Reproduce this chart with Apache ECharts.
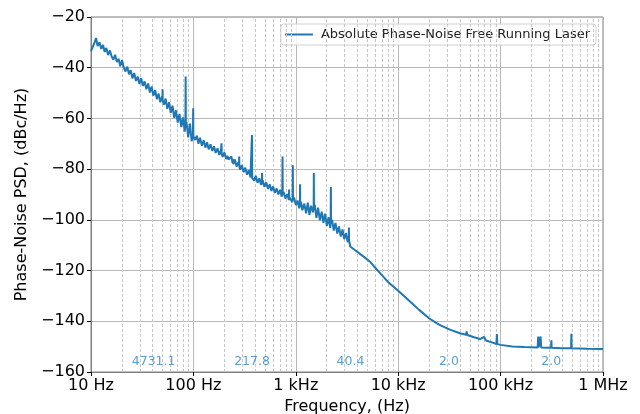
<!DOCTYPE html>
<html>
<head>
<meta charset="utf-8">
<script src="https://cdn.jsdelivr.net/npm/echarts@6/dist/echarts.min.js"></script>
<style>
  html, body { margin: 0; padding: 0; background: #fff; }
  #main { width: 640px; height: 414px; }
</style>
</head>
<body>
<div id="main"></div>
<script>
// [frequency Hz, phase noise dBc/Hz], one array per stretch of the trace
var band10Hz = [
  [10, -33.5], [10.4, -31.8], [10.8, -30.2], [11.2, -28.3], [11.6, -31.5], [12.1, -30], [12.6, -32.6],
  [13.1, -31], [13.6, -33.8], [14.1, -32.2], [14.7, -35], [15.3, -33.2], [15.9, -35.6], [16.5, -36.8],
  [17.2, -34.9], [17.9, -37.8], [18.6, -36.5], [19.3, -39.4], [20.1, -37], [20.9, -39.9], [21.7, -41.5],
  [22.6, -39.6], [23.5, -42.6], [24.4, -41], [25.4, -44.2], [26.4, -42.1], [27.5, -45.2], [28.6, -43.5],
  [29.7, -46.4], [30.9, -44.1], [32.1, -47.2], [33.4, -45.4], [34.7, -48.5], [36.1, -46.2], [37.6, -49.8],
  [39.1, -47.4], [40.6, -51], [42.3, -48.8], [44, -52.4], [45.7, -50.2], [47.5, -53.6], [49.4, -51.4],
  [49.8, -52.5], [50, -48.5], [50.2, -53], [51.4, -54.6], [53.5, -52.2], [55.6, -56.2], [57.8, -53.6],
  [60.1, -57.8], [62.5, -55], [65, -59.8], [67.6, -56.8], [70.3, -61.6], [73.1, -58.2], [76.1, -63.4],
  [79.1, -59.6], [82.3, -65.2], [83.6, -62], [84, -43.5], [84.4, -63], [85.6, -61.5], [89, -67.5],
  [92.5, -62], [96.2, -69], [99.1, -66], [99.5, -56], [99.9, -67]
];
var band100Hz = [
  [104, -68.5], [108, -66.8], [112, -70], [116, -67.6], [121, -70.8], [126, -68.6], [131, -71.5],
  [136, -69.4], [141, -72.2], [147, -70.2], [153, -72.8], [159, -71], [165, -73.6], [172, -71.8],
  [179, -74.4], [186, -72.5], [187, -73], [188, -69.8], [189, -74], [193, -75.2], [201, -73.4],
  [209, -76], [216, -74.8], [218, -75.5], [220, -76.2], [226, -76.8], [235, -75], [241, -77.5],
  [243, -76], [245, -78], [254, -76.2], [264, -79], [275, -77.2], [279, -78.5], [280, -75], [281, -79],
  [286, -80.2], [297, -78.4], [309, -81.2], [321, -79.4], [334, -82.2], [347, -80.4], [361, -83.2],
  [371, -82.5], [373, -66.5], [375, -83.5], [391, -84.5], [406, -82.6], [423, -85.4], [440, -83.6],
  [457, -86.2], [466, -85], [468, -81.5], [470, -86], [475, -84.4], [494, -87], [514, -85.2],
  [535, -87.8], [556, -86], [578, -88.6], [601, -86.8], [625, -89.4], [650, -87.6], [676, -90],
  [703, -88.2], [731, -90.8], [738, -89.5], [742, -75], [746, -90], [761, -89], [791, -91.6],
  [823, -89.8], [856, -92.2], [858, -90], [860, -88], [862, -91], [890, -90.4], [925, -93],
  [931, -92], [935, -78.5], [939, -92], [962, -91.2]
];
var band1kHz = [
  [1000, -94.2], [1040, -92.4], [1080, -95.4], [1097, -94], [1100, -86], [1103, -94], [1120, -92.8],
  [1160, -96.2], [1210, -93.6], [1260, -97.4], [1310, -93.2], [1360, -98], [1410, -94.4], [1470, -97],
  [1495, -95], [1500, -81.5], [1505, -96], [1530, -94], [1590, -99.2], [1650, -95.2], [1720, -100.2],
  [1790, -96.8], [1860, -101.2], [1930, -97.6], [2010, -102.4], [2090, -99], [2170, -103.2],
  [2190, -101], [2200, -87], [2210, -101], [2260, -100], [2350, -104.2], [2440, -101.2], [2540, -105.4],
  [2640, -102.6], [2750, -106.6], [2860, -103.8], [2970, -107.6], [3090, -105.2], [3210, -108.8],
  [3290, -107], [3300, -103], [3310, -108], [3400, -110.5]
];
var rolloff = [
  [3800, -112], [4200, -113.3], [4700, -114.8], [5300, -116.5], [6000, -119], [7000, -122],
  [8000, -124.6], [10000, -128], [12500, -131.5], [16000, -135.5], [20000, -138.8], [25000, -141.3],
  [32000, -143.3], [40000, -144.7]
];
var floorBand = [
  [46000, -145.3], [46600, -144], [47200, -145.4], [55000, -146.3], [63000, -147], [69000, -146.2],
  [72000, -147.6], [85000, -148.5], [91000, -149], [92000, -145], [93000, -149], [100000, -149.3],
  [130000, -149.9], [170000, -150.1], [230000, -150.3], [233000, -146], [236000, -150.3],
  [243000, -150.3], [246000, -146], [249000, -150.3], [290000, -150.4], [311000, -150.4],
  [313000, -147.5], [315000, -150.4], [400000, -150.6], [488000, -150.6], [491000, -144.9],
  [494000, -150.6], [700000, -150.8], [1000000, -150.9]
];

// minor grid positions (2..9 of every decade)
var minorHz = [
  20, 30, 40, 50, 60, 70, 80, 90,
  200, 300, 400, 500, 600, 700, 800, 900,
  2000, 3000, 4000, 5000, 6000, 7000, 8000, 9000,
  20000, 30000, 40000, 50000, 60000, 70000, 80000, 90000,
  200000, 300000, 400000, 500000, 600000, 700000, 800000, 900000
];

// blue numbers along the bottom of the plot
var noteHz = [25, 250, 2500, 25000, 250000];
var noteText = ['4731.1', '217.8', '40.4', '2.0', '2.0'];
var noteDb = -156;

var seriesName = 'Absolute Phase-Noise Free Running Laser';
var blue = '#1f77b4';
var font = 'DejaVu Sans';

function freqLabel(v) {
    if (v >= 1e6) return (v / 1e6) + ' MHz';
    if (v >= 1e3) return (v / 1e3) + ' kHz';
    return v + ' Hz';
}

var lineData = [].concat(band10Hz, band100Hz, band1kHz, rolloff, floorBand);
var noteData = noteHz.map(function (f, i) { return { value: [f, noteDb], label: { formatter: noteText[i] } }; });

var chart = echarts.init(document.getElementById('main'));
var option = {
    animation: false,
    textStyle: { fontFamily: font },
    grid: {
        left: 91, right: 37, top: 17, bottom: 42,
        containLabel: false, outerBoundsMode: 'none',
        show: true, borderColor: '#808080', borderWidth: 1
    },
    legend: {
        data: [seriesName],
        right: 44, top: 24,
        padding: [4, 6, 4, 4],
        backgroundColor: 'rgba(255,255,255,0.8)',
        borderColor: '#d0d0d0', borderWidth: 1, borderRadius: 3,
        icon: 'rect', itemWidth: 28, itemHeight: 2,
        textStyle: { fontFamily: font, fontSize: 13, color: '#222', padding: [0, 0, 0, 3] }
    },
    xAxis: {
        type: 'log', logBase: 10, min: 10, max: 1000000,
        name: 'Frequency, (Hz)', nameLocation: 'middle', nameGap: 22,
        nameTextStyle: { fontFamily: font, fontSize: 16, color: '#000' },
        axisLine: { lineStyle: { color: '#808080' } },
        axisTick: { length: 4, lineStyle: { color: '#000' } },
        axisLabel: { fontFamily: font, fontSize: 16, color: '#000', margin: 6, formatter: freqLabel },
        splitLine: { show: true, lineStyle: { color: '#b8b8b8', width: 1 } }
    },
    yAxis: {
        type: 'value', min: -160, max: -20, interval: 20,
        name: 'Phase-Noise PSD, (dBc/Hz)', nameLocation: 'middle', nameGap: 46,
        nameTextStyle: { fontFamily: font, fontSize: 16, color: '#000' },
        axisLine: { show: true, lineStyle: { color: '#808080' } },
        axisTick: { show: true, length: 4, lineStyle: { color: '#000' } },
        axisLabel: {
            fontFamily: font, fontSize: 16, color: '#000', margin: 6,
            formatter: function (v) { return String(v).replace('-', '\u2212'); }
        },
        splitLine: { show: true, lineStyle: { color: '#b8b8b8', width: 1 } }
    },
    series: [
        {
            name: seriesName,
            type: 'line',
            data: lineData,
            showSymbol: false,
            symbol: 'none',
            color: blue,
            lineStyle: { color: blue, width: 2 },
            z: 5,
            markLine: {
                silent: true,
                symbol: 'none',
                label: { show: false },
                lineStyle: { color: '#c8c8c8', type: [3, 2], width: 1 },
                data: minorHz.map(function (f) { return { xAxis: f }; })
            }
        },
        {
            name: 'notes',
            type: 'scatter',
            data: noteData,
            symbolSize: 0,
            label: {
                show: true, position: 'right', distance: 0,
                color: 'rgba(31,119,180,0.9)', fontFamily: font, fontSize: 12.5
            },
            z: 6
        }
    ]
};
chart.setOption(option);
window.onresize = function () { chart.resize(); };
</script>
</body>
</html>
